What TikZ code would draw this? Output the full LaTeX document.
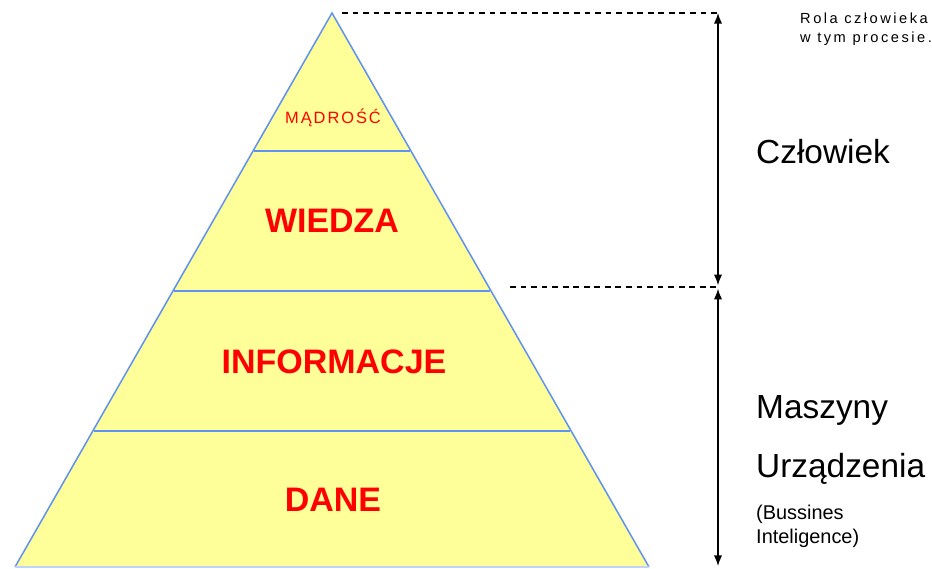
\documentclass[tikz,border=0pt]{standalone}
\usepackage{fontspec}
\setmainfont{Liberation Sans}
\usetikzlibrary{arrows.meta}
\definecolor{pyrfill}{RGB}{255,255,153}
\definecolor{pyredge}{RGB}{96,146,244}
\definecolor{pyrtext}{RGB}{255,0,0}

\begin{document}
\begin{tikzpicture}[
      x=0.03cm, y=-0.03cm,
      every node/.style={inner sep=0pt},
      layer/.style={font=\fontsize{29}{29}\selectfont\bfseries, text=pyrtext},
      toplayer/.style={font=\fontsize{14}{14}\selectfont\addfontfeature{LetterSpace=12}, text=pyrtext},
      side/.style={font=\fontsize{28.5}{28.5}\selectfont, anchor=base west},
      note/.style={font=\fontsize{17}{20}\selectfont, align=left, anchor=north west},
      guide/.style={densely dashed, dash pattern=on 5pt off 4pt, line width=0.9pt},
      span/.style={line width=1.1pt, {Latex[length=9pt,width=7pt]}-{Latex[length=9pt,width=7pt]}}
    ]
      \useasboundingbox (0,0) rectangle (932,569);
      % pyramid corners
      \coordinate (apex) at (332,13);
      \coordinate (bl) at (15,567);
      \coordinate (br) at (649,567);
      \fill[pyrfill] (apex) -- (bl) -- (br) -- cycle;
      % layer borders
      \coordinate (l1) at (254,151);  \coordinate (r1) at (410,151);
      \coordinate (l2) at (174,291);  \coordinate (r2) at (490,291);
      \coordinate (l3) at (94,431);   \coordinate (r3) at (570,431);
      \foreach \i in {1,2,3}
        \draw[pyredge, line width=1.5pt] (l\i) -- (r\i);
      \draw[pyredge, line width=1.3pt] (bl) -- (apex) -- (br);
      \draw[pyredge!40, line width=1.2pt] (bl) -- (br);

      \node[toplayer] (madrosc) at (333,118) {MĄDROŚĆ};
      \node[layer] (wiedza) at (332,221) {WIEDZA};
      \node[layer] (informacje) at (334,362) {INFORMACJE};
      \node[layer] (dane) at (333,500) {DANE};

      % human / machine ranges
      \coordinate (g0) at (342,13);  \coordinate (a0) at (718,13);
      \coordinate (g1) at (510,287); \coordinate (a1) at (718,287);
      \coordinate (a2) at (718,566);
      \draw[guide] (g0) -- (a0);
      \draw[guide] (g1) -- (a1);
      \draw[span] (a0) -- ([yshift=1.5pt]a1);
      \draw[span] ([yshift=-1.5pt]a1) -- (a2);

      \node[font=\fontsize{12.5}{16}\selectfont\addfontfeature{LetterSpace=17}, align=left, anchor=north west] (rola) at (800,13) {Rola człowieka\\w tym procesie.};
      \node[side] (czlowiek) at (756,164) {Człowiek};
      \node[side] (maszyny) at (756,418) {Maszyny};
      \node[side] (urzadzenia) at (756,477) {Urządzenia};
      \node[note] (bi) at (756,505) {(Bussines\\Inteligence)};
\end{tikzpicture}
\end{document}
